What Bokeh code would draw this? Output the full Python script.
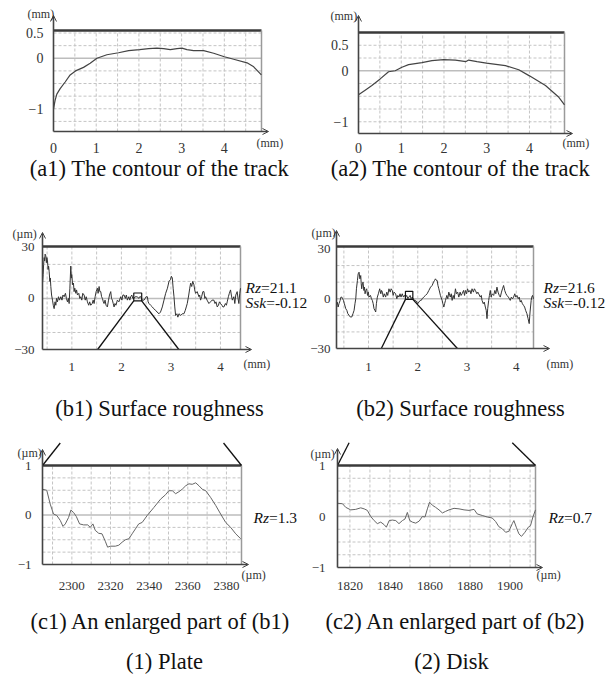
from bokeh.plotting import figure
from bokeh.models import Range1d, Label, Arrow, OpenHead
from bokeh.core.properties import value
from bokeh.layouts import column, row
from bokeh.embed import file_html
from bokeh.resources import INLINE

# ---------------- data ----------------
# (a1) contour of the track, plate (mm)
a1_x = [0, 0.023, 0.039, 0.078, 0.156, 0.273, 0.39, 0.516, 0.703, 0.859, 1.016, 1.25, 1.523, 1.758,
        2.016, 2.227, 2.422, 2.578, 2.734, 2.891, 3.008, 3.125, 3.281, 3.516, 3.75, 4.0, 4.219,
        4.531, 4.688, 4.867]
a1_y = [-1.0, -0.9, -0.83, -0.71, -0.6, -0.47, -0.33, -0.25, -0.18, -0.1, 0.0, 0.07, 0.11, 0.15,
        0.17, 0.19, 0.2, 0.19, 0.17, 0.19, 0.2, 0.17, 0.15, 0.15, 0.1, 0.03, -0.02,
        -0.09, -0.17, -0.33]
# (a2) contour of the track, disk (mm)
a2_x = [0, 0.156, 0.313, 0.508, 0.703, 0.859, 1.016, 1.172, 1.484, 1.719, 1.992, 2.266, 2.516,
        2.578, 2.773, 2.992, 3.438, 3.75, 4.0, 4.375, 4.688, 4.82]
a2_y = [-0.47, -0.38, -0.29, -0.16, -0.02, 0.0, 0.07, 0.12, 0.16, 0.2, 0.22, 0.21, 0.18,
        0.21, 0.18, 0.15, 0.1, 0.02, -0.1, -0.29, -0.52, -0.67]

# (b1) surface roughness, plate (x mm, y um)
b1_x = [0.407, 0.42, 0.43, 0.441, 0.45, 0.46, 0.474, 0.485, 0.495, 0.508, 0.52, 0.53, 0.541, 0.555,
        0.565, 0.575, 0.59, 0.609, 0.625, 0.642, 0.66, 0.676, 0.69, 0.709, 0.73, 0.75, 0.777, 0.80,
        0.82, 0.844, 0.87, 0.89, 0.911, 0.93, 0.945, 0.96, 0.978, 0.99, 0.998, 1.015, 1.032, 1.045,
        1.059, 1.08, 1.095, 1.113, 1.14, 1.16, 1.18, 1.2, 1.22, 1.247, 1.27, 1.29, 1.314, 1.34,
        1.36, 1.381, 1.41, 1.43, 1.449, 1.47, 1.49, 1.516, 1.53, 1.55, 1.565, 1.583, 1.60, 1.617,
        1.635, 1.65, 1.67, 1.69, 1.717, 1.74, 1.76, 1.785, 1.80, 1.818, 1.835, 1.852, 1.87, 1.89,
        1.919, 1.95, 1.986, 2.01, 2.03, 2.054, 2.08, 2.10, 2.121, 2.15, 2.17, 2.188, 2.21, 2.23,
        2.255, 2.28, 2.30, 2.322, 2.35, 2.37, 2.39, 2.42, 2.457, 2.48, 2.50, 2.524, 2.54, 2.558,
        2.59, 2.625, 2.65, 2.692, 2.72, 2.759, 2.79, 2.826, 2.86, 2.894, 2.93, 2.961, 2.99, 3.01,
        3.028, 3.045, 3.062, 3.078, 3.095, 3.12, 3.14, 3.162, 3.2, 3.23, 3.263, 3.29, 3.31, 3.33,
        3.36, 3.38, 3.398, 3.42, 3.44, 3.465, 3.48, 3.498, 3.53, 3.566, 3.58, 3.599, 3.62, 3.645,
        3.667, 3.685, 3.70, 3.73, 3.767, 3.80, 3.83, 3.868, 3.89, 3.91, 3.935, 3.96, 3.98, 4.002,
        4.03, 4.05, 4.07, 4.10, 4.12, 4.137, 4.16, 4.18, 4.204, 4.22, 4.24, 4.271, 4.29, 4.31,
        4.338, 4.355, 4.372, 4.39, 4.405]
b1_y = [9, 14, 20, 24, 22, 26, 25, 21, 24, 22, 17, 19, 16, 10,
        12, 7, 2, -1, -4, -6, -2, -4, 0, -2, 1, -1, 1, -1,
        2, 1, 3, 0, -2, 0, -3, 6, 19, 12, 14, 8, 9, 4,
        6, 3, 5, 2, 3, 0, 1, -1, 3, 2, -1, 1, -2, -4,
        -2, -4, -3, -1, -3, 1, 4, 6, 3, 7, 4, 4, 1, 0,
        -2, -3, -1, -4, -5, -1, 2, 4, 0, -1, -3, -5, -3, -4,
        -1, -2, 1, -1, 2, 2, 0, 2, -1, 1, -1, 1, 2, 0,
        0, 1, 1, 1, 0, 1, 1, -1, -1, 0, 1, 1, -2, -3,
        -4, -5, -6, -7, -8, -9, -8, -5, -1, 3, 6, 10, 11, 13,
        12, 6, 1, -5, -10, -9, -11, -9, -10, -9, -9, -7, -5, -3,
        2, 6, 9, 7, 10, 8, 5, 3, 4, 1, 2, -1, 1, 4,
        4, 0, 1, -1, -3, -2, -1, -1, -3, -2, -5, -4, -2, -3,
        -4, -5, -5, -3, -4, -2, 1, 3, 5, 2, -1, 1, -3, 2,
        4, 0, -3, 3, 6]

# (b2) surface roughness, disk (x mm, y um)
b2_x = [0.35, 0.365, 0.383, 0.40, 0.424, 0.44, 0.457, 0.475, 0.491, 0.51, 0.538, 0.56, 0.58, 0.606,
        0.63, 0.66, 0.685, 0.707, 0.725, 0.741, 0.755, 0.775, 0.79, 0.808, 0.825, 0.842, 0.852,
        0.862, 0.875, 0.889, 0.905, 0.918, 0.93, 0.945, 0.963, 0.98, 0.995, 1.01, 1.04, 1.06, 1.078,
        1.095, 1.112, 1.13, 1.146, 1.16, 1.179, 1.2, 1.227, 1.25, 1.265, 1.281, 1.30, 1.32, 1.348,
        1.37, 1.39, 1.415, 1.44, 1.46, 1.483, 1.50, 1.52, 1.55, 1.575, 1.595, 1.618, 1.64, 1.66,
        1.685, 1.71, 1.73, 1.753, 1.775, 1.80, 1.82, 1.845, 1.865, 1.888, 1.91, 1.93, 1.955, 1.98,
        2.0, 2.023, 2.05, 2.07, 2.09, 2.12, 2.157, 2.19, 2.225, 2.26, 2.292, 2.32, 2.34, 2.36, 2.38,
        2.394, 2.41, 2.428, 2.46, 2.495, 2.51, 2.529, 2.545, 2.563, 2.59, 2.61, 2.63, 2.66, 2.68,
        2.698, 2.72, 2.74, 2.765, 2.785, 2.81, 2.833, 2.86, 2.88, 2.9, 2.93, 2.95, 2.967, 2.99, 3.01,
        3.035, 3.06, 3.08, 3.102, 3.13, 3.15, 3.17, 3.2, 3.22, 3.237, 3.27, 3.29, 3.305, 3.33, 3.35,
        3.372, 3.39, 3.406, 3.42, 3.44, 3.455, 3.473, 3.49, 3.51, 3.541, 3.565, 3.585, 3.608, 3.63,
        3.655, 3.676, 3.7, 3.72, 3.743, 3.765, 3.79, 3.811, 3.84, 3.86, 3.878, 3.9, 3.925, 3.946,
        3.97, 3.99, 4.013, 4.04, 4.06, 4.081, 4.1, 4.125, 4.148, 4.17, 4.19, 4.216, 4.24, 4.263,
        4.28, 4.303, 4.315, 4.33, 4.35]
b2_y = [-3, -2, -5, -3, -1, 1, 1, 0, -1, -3, -6, -7, -9, -10,
        -11, -11, -9, -7, -3, 0, 6, 11, 15, 16, 12, 14, 9,
        6, 9, 10, 5, 7, 3, 5, 6, 2, 4, 1, 2, 0, -1,
        -3, -6, -7, -8, -3, 1, 3, 6, 3, 5, 4, 1, 3, 1,
        4, 2, 6, 4, 6, 5, 2, 4, 3, 0, 2, 1, 3, 1,
        3, 1, 2, 1, 2, 0, 1, 2, 0, 1, 0, -1, -1, -2,
        -3, -2, -1, -1, 0, 1, 2, 3, 5, 7, 8, 10, 11, 12, 11,
        11, 8, 6, 2, -1, -3, -5, -3, -1, 2, 0, 4, 1, 3,
        -1, 2, 0, 6, 3, 4, 1, 4, 2, 3, 5, 2, 5, 3, 6,
        4, 5, 3, 6, 4, 6, 5, 3, 4, 3, 1, 2, -1, -3, -2,
        -5, -7, -12, -6, -1, 2, 5, 1, 3, 2, 5, 3, 7, 4,
        2, 1, 4, 6, 8, 5, 3, 2, 1, 0, -1, 1, 0, 1,
        3, 1, 2, 0, 1, -2, -1, -3, -4, -5, -7, -9, -12, -15,
        -8, -1, 1, 2, 0]

# (c1) enlarged part of (b1) (x um, y um)
c1_x = [2284.8, 2287.0, 2288.8, 2290.5, 2292.2, 2294.0, 2295.4, 2296.6, 2298.3, 2299.5, 2300.9,
        2302.3, 2304.0, 2306.1, 2308.2, 2309.5, 2310.9, 2312.1, 2313.9, 2315.6, 2317.3, 2318.5,
        2319.9, 2322.5, 2324.3, 2326.0, 2327.7, 2329.5, 2331.2, 2332.9, 2334.6, 2336.4, 2339.0,
        2342.4, 2345.9, 2348.5, 2350.2, 2352.0, 2353.7, 2355.4, 2357.1, 2358.9, 2360.6, 2362.3,
        2364.1, 2365.8, 2367.5, 2369.3, 2371.9, 2374.5, 2377.0, 2379.6, 2382.2, 2384.8, 2387.4]
c1_y = [0.52, 0.5, 0.22, 0.02, -0.01, -0.11, -0.23, -0.18, -0.05, 0.1, 0.05,
        -0.03, -0.18, -0.2, -0.2, -0.25, -0.18, -0.31, -0.37, -0.38, -0.53, -0.65,
        -0.63, -0.63, -0.61, -0.55, -0.5, -0.48, -0.38, -0.28, -0.18, -0.15, -0.01,
        0.15, 0.32, 0.41, 0.49, 0.49, 0.43, 0.47, 0.52, 0.59, 0.63, 0.62,
        0.65, 0.59, 0.52, 0.49, 0.35, 0.19, 0.02, -0.15, -0.25, -0.38, -0.48]
# (c2) enlarged part of (b2) (x um, y um)
c2_x = [1813.8, 1816.3, 1817.9, 1820.4, 1822.9, 1825.4, 1827.1, 1828.7, 1830.4, 1832.1, 1833.7,
        1835.4, 1837.1, 1838.2, 1839.6, 1841.2, 1842.9, 1844.5, 1846.2, 1847.5, 1848.7, 1849.9,
        1851.2, 1852.9, 1854.6, 1856.2, 1857.5, 1858.7, 1859.8, 1861.2, 1862.8, 1864.5, 1866.2,
        1867.8, 1869.5, 1872.0, 1874.5, 1877.0, 1879.5, 1882.0, 1883.6, 1886.1, 1888.6, 1891.1,
        1892.8, 1894.4, 1896.1, 1897.8, 1899.4, 1901.1, 1901.9, 1903.1, 1904.4, 1905.7, 1907.4,
        1909.1, 1910.2, 1911.4, 1912.7]
c2_y = [0.26, 0.25, 0.18, 0.13, 0.14, 0.17, 0.15, 0.12, 0.0, -0.08, -0.14,
        -0.11, -0.16, -0.21, -0.08, -0.07, -0.08, -0.14, -0.08, -0.05, 0.08, -0.08,
        -0.11, -0.13, -0.09, 0.0, -0.01, 0.15, 0.28, 0.22, 0.18, 0.13, 0.07,
        0.1, 0.13, 0.16, 0.15, 0.13, 0.12, 0.14, 0.05, 0.02, -0.01, -0.03,
        -0.1, -0.2, -0.24, -0.31, -0.29, -0.14, -0.08, -0.21, -0.34, -0.39, -0.31,
        -0.21, -0.18, -0.01, 0.13]

# box extents (data) of each panel: x start, x end, y bottom, y top
a1_box = [0, 4.87, -1.45, 0.55]
a2_box = [0, 4.82, -1.23, 0.75]
b1_box = [0.407, 4.405, -30, 30.5]
b2_box = [0.35, 4.35, -30, 31.5]
c1_box = [2284.8, 2387.8, -1, 1]
c2_box = [1813.8, 1912.7, -1, 1]

# ticks and tick labels
a_xticks = [0, 1, 2, 3, 4]
a_xlabels = ["0", "1", "2", "3", "4"]
a_yticks = [0.5, 0, -1]
a_ylabels = ["0.5", "0", "\u22121"]
b_xticks = [1, 2, 3, 4]
b_xlabels = ["1", "2", "3", "4"]
b_yticks = [30, 0, -30]
b_ylabels = ["30", "0", "\u221230"]
c1_xticks = [2300, 2320, 2340, 2360, 2380]
c1_xlabels = ["2300", "2320", "2340", "2360", "2380"]
c2_xticks = [1820, 1840, 1860, 1880, 1900]
c2_xlabels = ["1820", "1840", "1860", "1880", "1900"]
c_yticks = [1, 0, -1]
c_ylabels = ["1", "0", "\u22121"]

# axis units (y, x)
a_units = ("(mm)", "(mm)")
b_units = ("(\u00b5m)", "(mm)")
c_units = ("(\u00b5m)", "(\u00b5m)")

# grid lines
a_vgrid = [0.5, 1, 1.5, 2, 2.5, 3, 3.5, 4, 4.5]
a1_hgrid = [0.5, 0.25, -0.25, -0.5, -0.75, -1, -1.25]
a2_hgrid = [0.5, 0.25, -0.25, -0.5, -0.75, -1]
b_vgrid = [0.5, 1, 1.5, 2, 2.5, 3, 3.5, 4]
b_hgrid = [20, 10, -10, -20]
c1_vgrid = [2290, 2300, 2310, 2320, 2330, 2340, 2350, 2360, 2370, 2380]
c2_vgrid = [1820, 1830, 1840, 1850, 1860, 1870, 1880, 1890, 1900, 1910]
c_hgrid = [0.75, 0.5, 0.25, -0.25, -0.5, -0.75]

# zoom window on (b) and the guide lines to (c)
b1_win = [2.25, 2.41, -1.4, 3.2]
b2_win = [1.75, 1.90, -0.4, 4.5]
b1_guide_x0 = [2.25, 2.41]
b1_guide_y0 = [-1.4, -1.4]
b1_guide_x1 = [1.52, 3.16]
b1_guide_y1 = [-30, -30]
b2_guide_x0 = [1.75, 1.90]
b2_guide_y0 = [-0.4, -0.4]
b2_guide_x1 = [1.26, 2.805]
b2_guide_y1 = [-30, -30]
c1_guide_x0 = [2294.0, 2378.5]
c1_guide_y0 = [1.454, 1.454]
c1_guide_x1 = [2284.8, 2387.8]
c1_guide_y1 = [1, 1]
c2_guide_x0 = [1819.6, 1901.1]
c2_guide_y0 = [1.445, 1.445]
c2_guide_x1 = [1813.8, 1912.7]
c2_guide_y1 = [1, 1]

# texts
captions = ["(a1) The contour of the track", "(a2) The contour of the track",
            "(b1) Surface roughness", "(b2) Surface roughness",
            "(c1) An enlarged part of (b1)", "(c2) An enlarged part of (b2)"]
footers = ["(1) Plate", "(2) Disk"]
b1_stats = [("Rz", "=21.1"), ("Ssk", "=-0.12")]
b2_stats = [("Rz", "=21.6"), ("Ssk", "=-0.12")]
c1_stats = [("Rz", "=1.3")]
c2_stats = [("Rz", "=0.7")]

SERIF = "Liberation Serif"


def make_panel(fig_rect, box_px, box, xs, ys, xticks, xlabels, yticks, ylabels,
               vgrid, hgrid, ytip, xtip, unit_y, unit_x, units, tick_size,
               xlab_py, ylab_px, curve_color, curve_width):
    fx, fy, W, H = fig_rect
    bx0, bx1, bt, bb = box_px
    x0, x1, y0, y1 = box
    sx = (x1 - x0) / (bx1 - bx0)
    sy = (y1 - y0) / (bb - bt)

    def X(px):
        return x0 + (px - bx0) * sx

    def Y(py):
        return y0 + (bb - py) * sy

    p = figure(width=W, height=H, x_range=Range1d(X(fx), X(fx + W)),
               y_range=Range1d(Y(fy + H), Y(fy)),
               output_backend="svg", toolbar_location=None,
               x_axis_location=None, y_axis_location=None,
               min_border=0, min_border_left=0, min_border_right=0,
               min_border_top=0, min_border_bottom=0)
    p.outline_line_color = None
    p.xgrid.visible = False
    p.ygrid.visible = False
    p.background_fill_color = "white"
    p.border_fill_color = "white"

    # dashed grid inside the box
    p.segment(x0=vgrid, y0=[y0] * len(vgrid), x1=vgrid, y1=[y1] * len(vgrid),
              line_color="#c4c4c4", line_dash="3 2", line_width=1)
    p.segment(x0=[x0] * len(hgrid), y0=hgrid, x1=[x1] * len(hgrid), y1=hgrid,
              line_color="#c4c4c4", line_dash="3 2", line_width=1)
    # zero line
    p.line([x0, x1], [0, 0], line_color="#bdbdbd", line_width=1.6)
    # box: thick top, grey right
    p.line([x0, x1], [y1, y1], line_color="#3a3a3a", line_width=2.4)
    p.line([x1, x1], [y0, y1], line_color="#9a9a9a", line_width=1.5)
    # curve
    p.line(xs, ys, line_color=curve_color, line_width=curve_width)
    # axes with arrow heads
    p.add_layout(Arrow(x_start=x0, y_start=y0, x_end=x0, y_end=Y(ytip),
                       end=OpenHead(size=6, line_width=1, line_color="#444444"),
                       line_color="#444444", line_width=1.6))
    p.add_layout(Arrow(x_start=x0, y_start=y0, x_end=X(xtip), y_end=y0,
                       end=OpenHead(size=6, line_width=1, line_color="#444444"),
                       line_color="#444444", line_width=1.6))
    # tick labels
    p.text(x=xticks, y=[Y(xlab_py)] * len(xticks), text=xlabels, text_align="center",
           text_baseline="middle", text_font=value(SERIF), text_font_size=value(tick_size),
           text_color="#333333")
    p.text(x=[X(ylab_px)] * len(yticks), y=yticks, text=ylabels, text_align="right",
           text_baseline="middle", text_font=value(SERIF), text_font_size=value(tick_size),
           text_color="#333333")
    # unit labels
    for (ux, uy), ut in zip((unit_y, unit_x), units):
        p.add_layout(Label(x=X(ux), y=Y(uy), text=ut, text_align="left",
                           text_baseline="middle", text_font=SERIF, text_font_size="12px",
                           text_color="#333333"))
    return p, X, Y


def add_text(p, X, Y, px, py, text, size):
    p.add_layout(Label(x=X(px), y=Y(py), text=text, text_align="center", text_baseline="middle",
                       text_font=SERIF, text_font_size=size, text_color="#111111"))


def add_stats(p, X, Y, px, pys, stats):
    for (name, val), py in zip(stats, pys):
        p.add_layout(Label(x=X(px), y=Y(py), text=name, text_align="left", text_baseline="middle",
                           text_font=SERIF, text_font_size="15.5px", text_font_style="italic",
                           text_color="#111111"))
        w = 15.5 * (1.0 if name == "Rz" else 1.333)
        p.add_layout(Label(x=X(px), y=Y(py), x_offset=w, text=val, text_align="left",
                           text_baseline="middle", text_font=SERIF, text_font_size="15.5px",
                           text_color="#111111"))


CAP = "22.5px"

# ---- row a ----
pa1, Xa1, Ya1 = make_panel((0, 0, 305, 190), (53, 261, 30, 131), a1_box, a1_x, a1_y,
                           a_xticks, a_xlabels, a_yticks, a_ylabels, a_vgrid, a1_hgrid,
                           15, 268, (27, 13), (256, 142), a_units, "14px", 147, 43, "#444444", 1.2)
add_text(pa1, Xa1, Ya1, 159, 168, captions[0], CAP)

pa2, Xa2, Ya2 = make_panel((305, 0, 310, 190), (358, 564, 32, 133), a2_box, a2_x, a2_y,
                           a_xticks, a_xlabels, a_yticks, a_ylabels, a_vgrid, a2_hgrid,
                           15, 572, (330, 15), (562, 142), a_units, "14px", 147, 348, "#444444", 1.2)
add_text(pa2, Xa2, Ya2, 460, 168, captions[1], CAP)

# ---- row b ----
pb1, Xb1, Yb1 = make_panel((0, 190, 310, 242), (42, 240, 246, 349), b1_box, b1_x, b1_y,
                           b_xticks, b_xlabels, b_yticks, b_ylabels, b_vgrid, b_hgrid,
                           232, 251, (12, 233), (243, 363), b_units, "13px", 366, 34, "#333333", 1)
pb1.quad(left=[b1_win[0]], right=[b1_win[1]], bottom=[b1_win[2]], top=[b1_win[3]],
         fill_color=None, line_color="#111111", line_width=1.2)
pb1.segment(x0=b1_guide_x0, y0=b1_guide_y0, x1=b1_guide_x1, y1=b1_guide_y1,
            line_color="#111111", line_width=1.3)
add_stats(pb1, Xb1, Yb1, 245, [287, 302], b1_stats)
add_text(pb1, Xb1, Yb1, 159, 408, captions[2], CAP)

pb2, Xb2, Yb2 = make_panel((310, 190, 305, 242), (336, 533, 246, 348), b2_box, b2_x, b2_y,
                           b_xticks, b_xlabels, b_yticks, b_ylabels, b_vgrid, b_hgrid,
                           230, 549, (311, 232), (546, 363), b_units, "13px", 366, 330, "#333333", 1)
pb2.quad(left=[b2_win[0]], right=[b2_win[1]], bottom=[b2_win[2]], top=[b2_win[3]],
         fill_color=None, line_color="#111111", line_width=1.2)
pb2.segment(x0=b2_guide_x0, y0=b2_guide_y0, x1=b2_guide_x1, y1=b2_guide_y1,
            line_color="#111111", line_width=1.3)
add_stats(pb2, Xb2, Yb2, 543, [287, 302], b2_stats)
add_text(pb2, Xb2, Yb2, 460, 408, captions[3], CAP)

# ---- row c ----
pc1, Xc1, Yc1 = make_panel((0, 432, 305, 245), (42, 241, 465, 564), c1_box, c1_x, c1_y,
                           c1_xticks, c1_xlabels, c_yticks, c_ylabels, c1_vgrid, c_hgrid,
                           449, 248, (17, 452), (241, 574), c_units, "13px", 585, 31, "#666666", 1)
pc1.segment(x0=c1_guide_x0, y0=c1_guide_y0, x1=c1_guide_x1, y1=c1_guide_y1,
            line_color="#111111", line_width=1.3)
add_stats(pc1, Xc1, Yc1, 253, [517], c1_stats)
add_text(pc1, Xc1, Yc1, 160, 621, captions[4], CAP)
add_text(pc1, Xc1, Yc1, 164, 661, footers[0], CAP)

pc2, Xc2, Yc2 = make_panel((305, 432, 310, 245), (337, 535, 465, 567), c2_box, c2_x, c2_y,
                           c2_xticks, c2_xlabels, c_yticks, c_ylabels, c2_vgrid, c_hgrid,
                           448, 542, (310, 453), (536, 574), c_units, "13px", 585, 325, "#666666", 1)
pc2.segment(x0=c2_guide_x0, y0=c2_guide_y0, x1=c2_guide_x1, y1=c2_guide_y1,
            line_color="#111111", line_width=1.3)
add_stats(pc2, Xc2, Yc2, 548, [517], c2_stats)
add_text(pc2, Xc2, Yc2, 455, 621, captions[5], CAP)
add_text(pc2, Xc2, Yc2, 451, 661, footers[1], CAP)

layout = column(row(pa1, pa2), row(pb1, pb2), row(pc1, pc2))
open("out.html", "w").write(file_html(layout, INLINE))
